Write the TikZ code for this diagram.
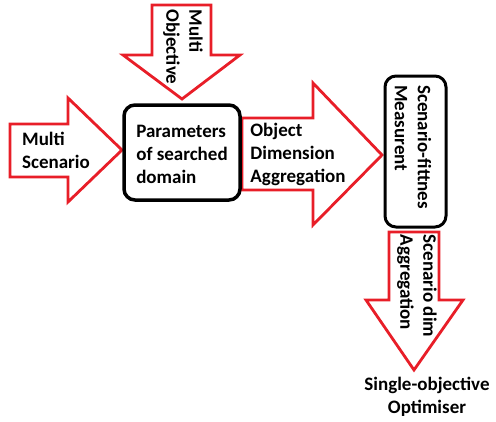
\documentclass[tikz,border=0pt]{standalone}
\usepackage{fontspec}
\setmainfont{Carlito}
\begin{document}
\begin{tikzpicture}[x=1pt,y=-1pt,
  blockarrow/.style={draw=arrowred, line width=2.8pt, fill=white, line join=miter},
  procbox/.style={draw=black, line width=3.5pt, rounded corners=11pt, fill=white},
  lbl/.style={font=\fontsize{19}{23}\selectfont\bfseries, inner sep=0pt, align=left}]
\definecolor{arrowred}{RGB}{232,30,40}
\useasboundingbox (0,0) rectangle (496,421);
% Multi Objective arrow (down)
\draw[blockarrow] (152,5) -- (211,5) -- (211,55) -- (240,55) -- (182,99) -- (123,55) -- (152,55) -- cycle;
% Multi Scenario arrow (right)
\draw[blockarrow] (10,124) -- (68,124) -- (68,98) -- (122,150) -- (68,202) -- (68,177) -- (10,177) -- cycle;
% Object Dimension Aggregation arrow (right)
\draw[blockarrow] (242,118) -- (313,118) -- (313,83) -- (382,155) -- (313,225) -- (313,190) -- (242,190) -- cycle;
% Scenario dim Aggregation arrow (down)
\draw[blockarrow] (389,232) -- (439,232) -- (439,300) -- (463,300) -- (414,370) -- (366,300) -- (389,300) -- cycle;
% boxes
\draw[procbox] (124,105) rectangle (240,200);
\draw[procbox, line width=3pt] (385,76) rectangle (446,227);
% labels
\node[lbl, rotate=-90] (mo) at (183,47) {Multi\\Objective};
\node[lbl] (ms) at (56,150) {Multi\\Scenario};
\node[lbl] (par) at (182,154) {Parameters\\of searched\\domain};
\node[lbl] (oda) at (298,154) {Object\\Dimension\\Aggregation};
\node[lbl, rotate=-90] (sfm) at (413,147) {Scenario-fittnes\\Measurent};
\node[lbl, rotate=-90] (sda) at (417,286) {Scenario dim\\Aggregation};
\node[lbl, align=center] (soo) at (427,397) {Single-objective\\Optimiser};
\end{tikzpicture}
\end{document}
